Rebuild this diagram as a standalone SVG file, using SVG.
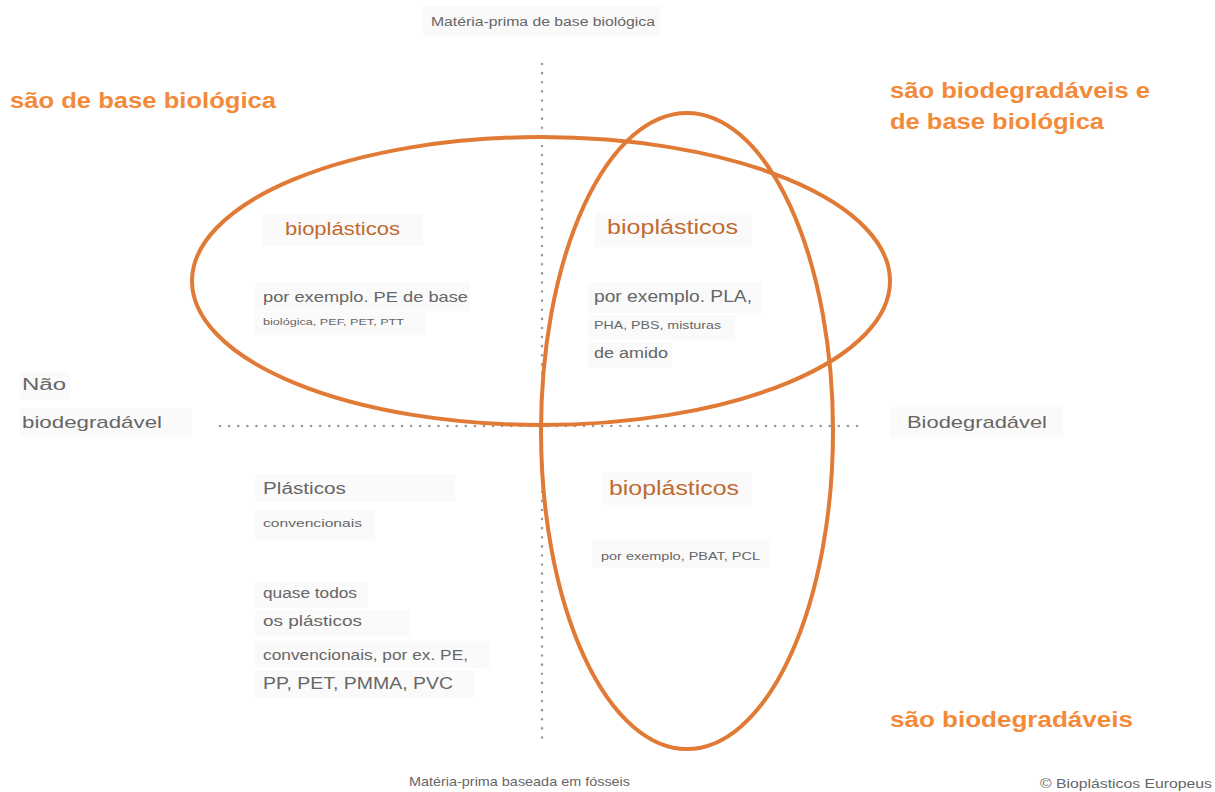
<svg xmlns="http://www.w3.org/2000/svg" width="1215" height="792" viewBox="0 0 1215 792">
<style>
.bg{fill:#fafafa}
.t{font-family:"Liberation Sans",Arial,sans-serif;fill:#666}
.ti{font-family:"Liberation Sans",Arial,sans-serif;fill:#f28a3a;font-weight:bold}
.bio{font-family:"Liberation Sans",Arial,sans-serif;fill:#c06a30}
.axis{stroke:#999;stroke-width:2.5;stroke-linecap:round;stroke-dasharray:0.1 9;fill:none}
.ell{fill:none;stroke:#e07a35;stroke-width:4}
</style>
<rect width="1215" height="792" fill="#ffffff"/>
<g id="labels-bg">
<rect class="bg" x="423" y="6" width="237" height="30"/>
<rect class="bg" x="262" y="214" width="161" height="32"/>
<rect class="bg" x="255" y="282" width="215" height="29"/>
<rect class="bg" x="255" y="312" width="170" height="23"/>
<rect class="bg" x="595" y="213" width="157" height="34"/>
<rect class="bg" x="588" y="282" width="174" height="31"/>
<rect class="bg" x="588" y="315" width="147" height="25"/>
<rect class="bg" x="588" y="342" width="84" height="26"/>
<rect class="bg" x="602" y="472" width="150" height="33"/>
<rect class="bg" x="592" y="540" width="178" height="28"/>
<rect class="bg" x="255" y="474" width="200" height="28"/>
<rect class="bg" x="255" y="510" width="120" height="30"/>
<rect class="bg" x="255" y="582" width="113" height="26"/>
<rect class="bg" x="255" y="610" width="155" height="26"/>
<rect class="bg" x="255" y="641" width="235" height="27"/>
<rect class="bg" x="255" y="670" width="220" height="28"/>
<rect class="bg" x="20" y="372" width="50" height="28"/>
<rect class="bg" x="20" y="408" width="172" height="29"/>
<rect class="bg" x="890" y="407" width="173" height="30"/>
</g>
<g id="connectors">
<line class="axis" x1="542" y1="64" x2="542" y2="740"/>
<line class="axis" x1="220" y1="426" x2="865" y2="426"/>
</g>
<g id="ellipse-biobased">
<ellipse class="ell" cx="541" cy="281" rx="349" ry="144"/>
</g>
<g id="ellipse-biodegradable">
<ellipse class="ell" cx="687" cy="431" rx="146" ry="318"/>
</g>
<g id="axis-top"><text class="t" x="431" y="26" font-size="12" textLength="224" lengthAdjust="spacingAndGlyphs">Matéria-prima de base biológica</text></g>
<g id="axis-bottom"><text class="t" x="409" y="786" font-size="13" textLength="221" lengthAdjust="spacingAndGlyphs">Matéria-prima baseada em fósseis</text></g>
<g id="axis-left">
<text class="t" x="22" y="390" font-size="16" textLength="44" lengthAdjust="spacingAndGlyphs">Não</text>
<text class="t" x="22" y="428" font-size="17" textLength="140" lengthAdjust="spacingAndGlyphs">biodegradável</text>
</g>
<g id="axis-right"><text class="t" x="907" y="428" font-size="17" textLength="140" lengthAdjust="spacingAndGlyphs">Biodegradável</text></g>
<g id="title-biobased"><text class="ti" x="10" y="108" font-size="22" textLength="266" lengthAdjust="spacingAndGlyphs">são de base biológica</text></g>
<g id="title-both">
<text class="ti" x="890" y="98" font-size="22" textLength="260" lengthAdjust="spacingAndGlyphs">são biodegradáveis e</text>
<text class="ti" x="890" y="129" font-size="22" textLength="214" lengthAdjust="spacingAndGlyphs">de base biológica</text>
</g>
<g id="title-biodegradable"><text class="ti" x="890" y="727" font-size="22" textLength="243" lengthAdjust="spacingAndGlyphs">são biodegradáveis</text></g>
<g id="q-biobased">
<text class="bio" x="285" y="235" font-size="18" textLength="115" lengthAdjust="spacingAndGlyphs">bioplásticos</text>
<text class="t" x="263" y="302" font-size="15" textLength="205" lengthAdjust="spacingAndGlyphs">por exemplo. PE de base</text>
<text class="t" x="263" y="325" font-size="9.5" textLength="141" lengthAdjust="spacingAndGlyphs">biológica, PEF, PET, PTT</text>
</g>
<g id="q-both">
<text class="bio" x="607" y="234" font-size="20" textLength="131" lengthAdjust="spacingAndGlyphs">bioplásticos</text>
<text class="t" x="594" y="302" font-size="16" textLength="158" lengthAdjust="spacingAndGlyphs">por exemplo. PLA,</text>
<text class="t" x="594" y="329" font-size="10.5" textLength="127" lengthAdjust="spacingAndGlyphs">PHA, PBS, misturas</text>
<text class="t" x="594" y="358" font-size="14" textLength="74" lengthAdjust="spacingAndGlyphs">de amido</text>
</g>
<g id="q-biodegradable">
<text class="bio" x="609" y="495" font-size="20" textLength="130" lengthAdjust="spacingAndGlyphs">bioplásticos</text>
<text class="t" x="601" y="560" font-size="10.5" textLength="159" lengthAdjust="spacingAndGlyphs">por exemplo, PBAT, PCL</text>
</g>
<g id="q-conventional">
<text class="t" x="263" y="494" font-size="16" textLength="83" lengthAdjust="spacingAndGlyphs">Plásticos</text>
<text class="t" x="263" y="527" font-size="10.5" textLength="99" lengthAdjust="spacingAndGlyphs">convencionais</text>
<text class="t" x="263" y="598" font-size="14" textLength="94" lengthAdjust="spacingAndGlyphs">quase todos</text>
<text class="t" x="263" y="626" font-size="15" textLength="99" lengthAdjust="spacingAndGlyphs">os plásticos</text>
<text class="t" x="263" y="660" font-size="14" textLength="205" lengthAdjust="spacingAndGlyphs">convencionais, por ex. PE,</text>
<text class="t" x="263" y="689" font-size="16" textLength="190" lengthAdjust="spacingAndGlyphs">PP, PET, PMMA, PVC</text>
</g>
<g id="credit"><text class="t" x="1040" y="788" font-size="12" textLength="172" lengthAdjust="spacingAndGlyphs">© Bioplásticos Europeus</text></g>
</svg>
